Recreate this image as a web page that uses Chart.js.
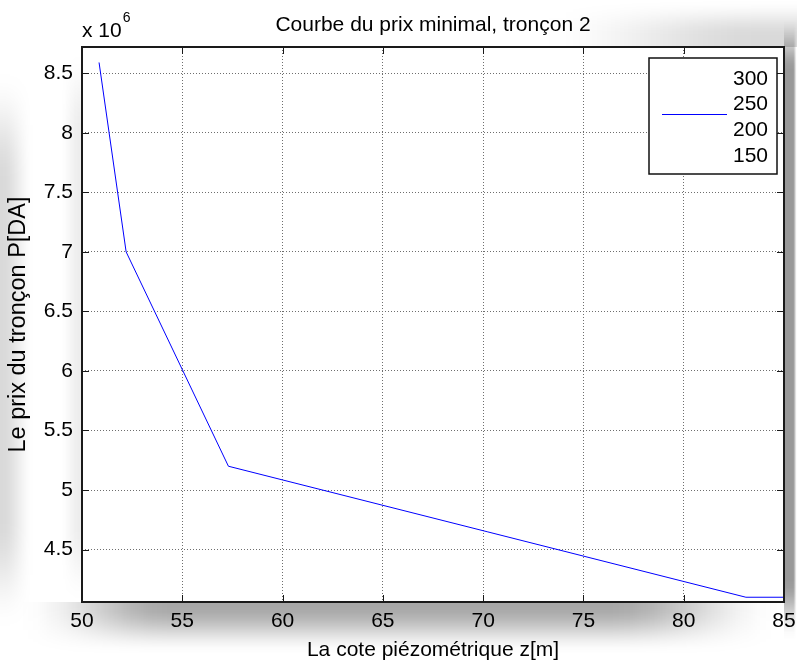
<!DOCTYPE html>
<html>
<head>
<meta charset="utf-8">
<script src="https://cdn.jsdelivr.net/npm/chart.js@4.4.1/dist/chart.umd.min.js"></script>
<style>
  html, body { margin: 0; padding: 0; background: #fff; }
  #wrap { width: 797px; height: 664px; }
</style>
</head>
<body>
<div id="wrap"><canvas id="myChart" width="797" height="664"></canvas></div>
<script>
// cote piézométrique z [m] et prix du tronçon P [DA]
const cote = [50.85, 52.2, 57.3, 83.1, 85];
const prix = [8.59e6, 7.0e6, 5.2e6, 4.1e6, 4.1e6];
const legendLabels = ["300", "250", "200", "150"];
const seriesIndex = 1; // only "250" has a visible line
const xTicks = [50, 55, 60, 65, 70, 75, 80, 85];
const yTicks = [4.5, 5, 5.5, 6, 6.5, 7, 7.5, 8, 8.5];
const yExponent = 6;
const titleText = "Courbe du prix minimal, tronçon 2";

const FONT = "'Liberation Sans', Arial, Helvetica, sans-serif";

// gradient that eases in over `a` px and out over `b` px
function easedGradient(o, len, a, b, horizontal) {
  const g = horizontal ? o.createLinearGradient(0, 0, len, 0) : o.createLinearGradient(0, 0, 0, len);
  const steps = 8;
  const add = (pos, v) => g.addColorStop(Math.max(0, Math.min(1, pos)), "rgba(0,0,0," + v.toFixed(3) + ")");
  for (let i = 0; i <= steps; i++) {
    const t = i / steps;
    const s = t * t * (3 - 2 * t);
    if (a) add((t * a) / len, s); else if (i === 0) add(0, 1);
    if (b) add(1 - (t * b) / len, s); else if (i === 0) add(1, 1);
  }
  return g;
}

// grey patch that fades out on each side (fade widths in px)
function softPatch(ctx, x, y, w, h, alpha, fl, fr, ft, fb) {
  const c = document.createElement("canvas");
  c.width = w; c.height = h;
  const o = c.getContext("2d");
  o.fillStyle = "rgba(0,0,0," + alpha + ")";
  o.fillRect(0, 0, w, h);
  o.globalCompositeOperation = "destination-in";
  o.fillStyle = easedGradient(o, w, fl, fr, true);
  o.fillRect(0, 0, w, h);
  o.fillStyle = easedGradient(o, h, ft, fb, false);
  o.fillRect(0, 0, w, h);
  ctx.drawImage(c, x, y);
}

// soft grey shading round the axes, like the exported figure
const backdrop = {
  id: "backdrop",
  beforeDraw(chart) {
    const { ctx, width, height, chartArea: a } = chart;
    ctx.save();
    ctx.fillStyle = "#fff";
    ctx.fillRect(0, 0, width, height);
    softPatch(ctx, 20, a.bottom, 760, 52, 0.34, 150, 170, 0, 48);
    softPatch(ctx, a.right, 20, width - a.right, 620, 0.4, 0, 4, 50, 60);
    softPatch(ctx, 0, 70, 34, 560, 0.15, 0, 32, 110, 110);
    softPatch(ctx, 540, 0, width - 540, a.top, 0.15, 220, 0, 36, 0);
    softPatch(ctx, 60, 50, 22, 555, 0.07, 20, 0, 80, 80);
    ctx.restore();
    ctx.fillStyle = "#fff";
    ctx.fillRect(a.left, a.top, a.right - a.left, a.bottom - a.top);
  },
};

// box, inward ticks, legend, title, exponent label
const matlabAxes = {
  id: "matlabAxes",
  afterDatasetsDraw(chart) {
    const { ctx, chartArea: a, scales } = chart;
    const tl = 7;
    ctx.save();
    ctx.strokeStyle = "#1a1a1a";
    ctx.lineWidth = 1;
    ctx.beginPath();
    scales.x.ticks.forEach((t) => {
      const px = Math.round(scales.x.getPixelForValue(t.value)) + 0.5;
      ctx.moveTo(px, a.bottom); ctx.lineTo(px, a.bottom - tl);
      ctx.moveTo(px, a.top); ctx.lineTo(px, a.top + tl);
    });
    scales.y.ticks.forEach((t) => {
      const py = Math.round(scales.y.getPixelForValue(t.value)) + 0.5;
      ctx.moveTo(a.left, py); ctx.lineTo(a.left + tl, py);
      ctx.moveTo(a.right, py); ctx.lineTo(a.right - tl, py);
    });
    ctx.stroke();
    ctx.lineWidth = 2;
    ctx.strokeRect(a.left, a.top, a.right - a.left, a.bottom - a.top);

    // legend
    const bw = 128, bh = 116;
    const bx = a.right - 7 - bw, by = a.top + 11;
    ctx.fillStyle = "#fff";
    ctx.fillRect(bx, by, bw, bh);
    ctx.lineWidth = 1.5;
    ctx.strokeStyle = "#111";
    ctx.strokeRect(bx, by, bw, bh);
    ctx.font = "21px " + FONT;
    ctx.textAlign = "right";
    ctx.textBaseline = "middle";
    ctx.fillStyle = "#000";
    chart.data.datasets.forEach((ds, i) => {
      const ry = by + 21 + i * 25.7;
      ctx.fillText(ds.label, bx + bw - 9, ry);
      if (ds.data.length) {
        ctx.strokeStyle = ds.borderColor;
        ctx.lineWidth = 1;
        ctx.beginPath();
        ctx.moveTo(bx + 13, Math.round(ry + 9) + 0.5);
        ctx.lineTo(bx + 78, Math.round(ry + 9) + 0.5);
        ctx.stroke();
      }
    });

    // title, centred over the axes
    ctx.textAlign = "center";
    ctx.fillText(titleText, (a.left + a.right) / 2, 25);

    // "x 10^6"
    ctx.textAlign = "left";
    ctx.textBaseline = "alphabetic";
    ctx.font = "21px " + FONT;
    ctx.fillText("x 10", a.left, a.top - 10);
    const w = ctx.measureText("x 10").width;
    ctx.font = "14px " + FONT;
    ctx.fillText(String(yExponent), a.left + w + 1, a.top - 25);
    ctx.restore();
  },
};

const datasets = legendLabels.map((lab, i) => ({
  label: lab,
  data: i === seriesIndex ? cote.map((z, k) => ({ x: z, y: prix[k] })) : [],
  borderColor: i === seriesIndex ? "#0000ff" : "transparent",
  borderWidth: 1,
  pointRadius: 0,
  tension: 0,
  fill: false,
}));

new Chart(document.getElementById("myChart"), {
  type: "line",
  data: { datasets },
  plugins: [backdrop, matlabAxes],
  options: {
    responsive: false,
    animation: false,
    devicePixelRatio: 1,
    layout: { padding: { left: 0, right: 13, top: 47, bottom: 0 } },
    plugins: {
      legend: { display: false },
      tooltip: { enabled: false },
      title: { display: false },
    },
    scales: {
      x: {
        type: "linear",
        min: 50,
        max: 85,
        afterBuildTicks: (s) => { s.ticks = xTicks.map((v) => ({ value: v })); },
        afterFit: (s) => { s.height = 62; s.paddingLeft = 0; s.paddingRight = 0; },
        ticks: {
          color: "#000",
          font: { family: FONT, size: 21 },
          padding: 7,
          maxRotation: 0,
          autoSkip: false,
          callback: (v) => String(v),
        },
        grid: { color: "#6e6e6e", lineWidth: 1, drawTicks: false },
        border: { display: false, dash: [1, 2] },
        title: {
          display: true,
          text: "La cote piézométrique z[m]",
          color: "#000",
          font: { family: FONT, size: 21 },
          padding: { top: 0, bottom: 1 },
        },
      },
      y: {
        type: "linear",
        min: 4.06e6,
        max: 8.72e6,
        afterBuildTicks: (s) => { s.ticks = yTicks.map((v) => ({ value: v * Math.pow(10, yExponent) })); },
        afterFit: (s) => { s.width = 82; s.paddingTop = 0; s.paddingBottom = 0; },
        ticks: {
          color: "#000",
          font: { family: FONT, size: 21 },
          padding: 9,
          callback: (v) => String(Math.round(v / Math.pow(10, yExponent - 1)) / 10),
        },
        grid: { color: "#6e6e6e", lineWidth: 1, drawTicks: false },
        border: { display: false, dash: [1, 2] },
        title: {
          display: true,
          text: "Le prix du tronçon P[DA]",
          color: "#000",
          font: { family: FONT, size: 23.5 },
          padding: { top: 4, bottom: 0 },
        },
      },
    },
  },
});
</script>
</body>
</html>
